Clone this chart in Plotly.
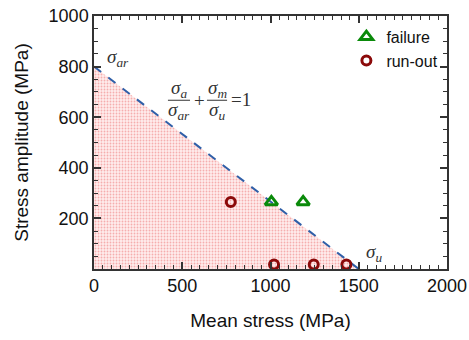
import plotly.graph_objects as go

# Data
goodman_x = [0, 1500]
goodman_y = [800, 0]
failure_x = [1005, 1185]
failure_y = [265, 265]
runout_x = [775, 1020, 1245, 1430]
runout_y = [265, 18, 18, 18]
x_ticks = [0, 500, 1000, 1500, 2000]
y_ticks = [200, 400, 600, 800, 1000]

fig = go.Figure()
fig.add_trace(go.Scatter(
    x=goodman_x, y=goodman_y, mode="lines", fill="tozeroy",
    line=dict(color="#2f5fa8", width=2, dash="dash"),
    fillcolor="rgba(255,235,235,1)",
    fillpattern=dict(shape=".", fgcolor="rgba(230,90,90,0.85)", bgcolor="rgba(255,236,236,1)", size=3, solidity=0.3),
    showlegend=False, hoverinfo="skip"))
fig.add_trace(go.Scatter(
    x=failure_x, y=failure_y, mode="markers", name="failure",
    marker=dict(symbol="triangle-up-open", size=11, color="#0a8a0a", line=dict(width=3, color="#0a8a0a"))))
fig.add_trace(go.Scatter(
    x=runout_x, y=runout_y, mode="markers", name="run-out",
    marker=dict(symbol="circle-open", size=9, color="#8b0a0a", line=dict(width=3, color="#8b0a0a"))))

ann = []
def t(x, y, s, size=19, xanchor="center"):
    ann.append(dict(x=x, y=y, xref="x", yref="y", text=s, showarrow=False,
                    font=dict(family="Liberation Serif", size=size, color="#333"), xanchor=xanchor, yanchor="middle"))
t(60, 835, "<i>σ<sub>ar</sub></i>", xanchor="left")
t(1530, 65, "<i>σ<sub>u</sub></i>", xanchor="left")
t(482, 713, "<i>σ<sub>a</sub></i>")
t(482, 625, "<i>σ<sub>ar</sub></i>")
t(595, 667, "+")
t(697, 713, "<i>σ<sub>m</sub></i>")
t(697, 625, "<i>σ<sub>u</sub></i>")
t(830, 669, "=1")

shapes = [
    dict(type="line", xref="x", yref="y", x0=419, x1=544, y0=667, y1=667, line=dict(color="#333", width=1)),
    dict(type="line", xref="x", yref="y", x0=640, x1=754, y0=667, y1=667, line=dict(color="#333", width=1)),
]

axis_common = dict(showline=True, linecolor="#333", linewidth=1.5, mirror="ticks",
                   ticks="inside", ticklen=7, tickwidth=1.5, tickcolor="#333",
                   showgrid=False, zeroline=False, automargin=False,
                   tickfont=dict(family="Liberation Sans", size=18, color="#111"),
                   title_font=dict(family="Liberation Sans", size=19, color="#111"))

fig.update_layout(
    width=469, height=340, margin=dict(l=94, r=22, t=16, b=71, autoexpand=False),
    paper_bgcolor="white", plot_bgcolor="white",
    annotations=ann, shapes=shapes,
    legend=dict(x=0.715, y=0.985, xanchor="left", yanchor="top", bgcolor="rgba(0,0,0,0)",
                font=dict(family="Liberation Sans", size=16, color="#111"), itemwidth=30, tracegroupgap=0),
    xaxis=dict(range=[0, 2000], tickvals=x_ticks, title=dict(text="Mean stress (MPa)", standoff=18),
               minor=dict(dtick=50, tick0=0, ticks="inside", ticklen=4, tickcolor="#333", tickwidth=1),
               **axis_common),
    yaxis=dict(range=[0, 1000], tickvals=y_ticks, title=dict(text="Stress amplitude (MPa)", standoff=15),
               minor=dict(dtick=50, tick0=0, ticks="inside", ticklen=4, tickcolor="#333", tickwidth=1),
               **axis_common),
)
fig.write_html("out.html", config={"displayModeBar": False},
               post_script="document.body.style.margin='0';document.body.style.padding='0';")
